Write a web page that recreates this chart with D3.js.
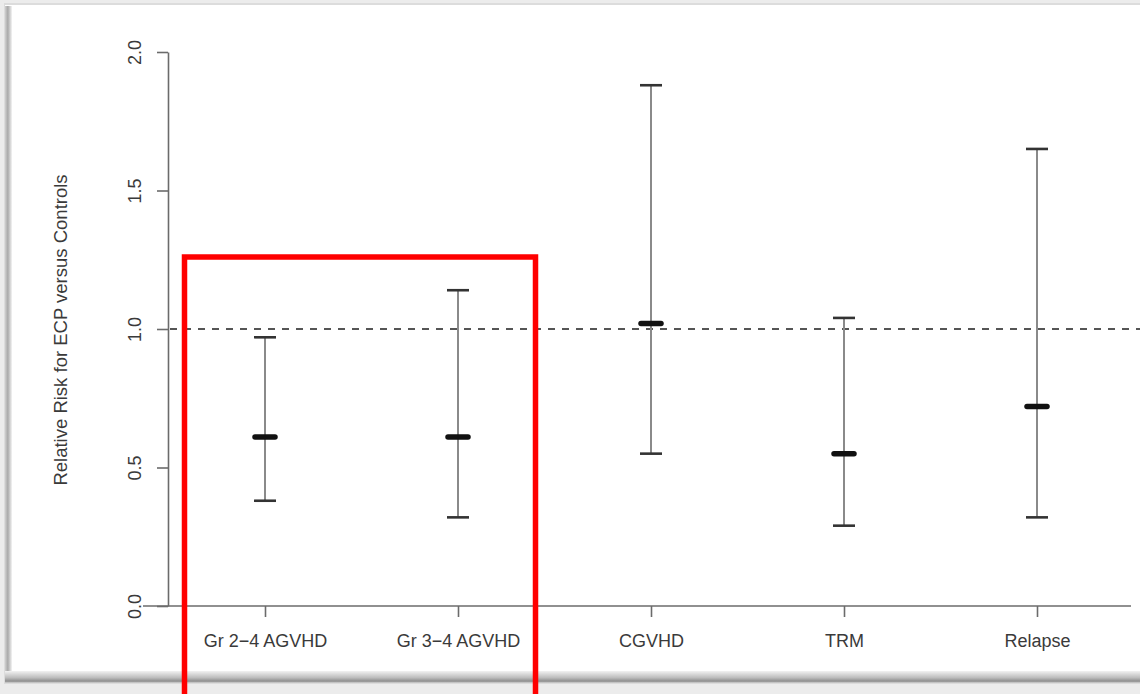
<!DOCTYPE html>
<html>
<head>
<meta charset="utf-8">
<script src="https://cdn.jsdelivr.net/npm/d3@7/dist/d3.min.js"></script>
<style>
  html, body { margin: 0; padding: 0; background: #ebebeb; }
  svg { display: block; }
  text { font-family: "Liberation Sans", Arial, sans-serif; fill: #3a3a3a; }
</style>
</head>
<body>
<svg id="chart" width="1140" height="694"></svg>
<script>
// Outcomes and relative-risk estimates with 95% confidence limits
const outcomes = ["Gr 2\u22124 AGVHD", "Gr 3\u22124 AGVHD", "CGVHD", "TRM", "Relapse"];
const estimate = [0.61, 0.61, 1.02, 0.55, 0.72];
const lower    = [0.38, 0.32, 0.55, 0.29, 0.32];
const upper    = [0.97, 1.14, 1.88, 1.04, 1.65];
const yTicks   = [0, 0.5, 1.0, 1.5, 2.0];
const yTickLabels = ["0.0", "0.5", "1.0", "1.5", "2.0"];
const referenceLevel = 1.0;
const highlighted = ["Gr 2\u22124 AGVHD", "Gr 3\u22124 AGVHD"];

const svg = d3.select("#chart");
const W = 1140, H = 694;

// Slide panel with bevelled edges
const defs = svg.append("defs");
const gB = defs.append("linearGradient").attr("id", "bevelBottom")
  .attr("x1", 0).attr("y1", 0).attr("x2", 0).attr("y2", 1);
gB.append("stop").attr("offset", "0%").attr("stop-color", "#f2f2f2");
gB.append("stop").attr("offset", "55%").attr("stop-color", "#bdbdbd");
gB.append("stop").attr("offset", "85%").attr("stop-color", "#8e8e8e");
gB.append("stop").attr("offset", "100%").attr("stop-color", "#d8d8d8");
const gL = defs.append("linearGradient").attr("id", "bevelLeft")
  .attr("x1", 0).attr("y1", 0).attr("x2", 1).attr("y2", 0);
gL.append("stop").attr("offset", "0%").attr("stop-color", "#d0d0d0");
gL.append("stop").attr("offset", "40%").attr("stop-color", "#a9a9a9");
gL.append("stop").attr("offset", "100%").attr("stop-color", "#f4f4f4");

svg.append("rect").attr("x", 0).attr("y", 0).attr("width", W).attr("height", H).attr("fill", "#ececec");
svg.append("rect").attr("x", 4).attr("y", 3).attr("width", W - 4).attr("height", 681).attr("fill", "#dcdcdc");
svg.append("rect").attr("x", 5).attr("y", 5).attr("width", W - 5).attr("height", 668).attr("fill", "#ffffff");
svg.append("rect").attr("x", 5).attr("y", 6).attr("width", 7).attr("height", 668).attr("fill", "url(#bevelLeft)");
svg.append("rect").attr("x", 5).attr("y", 671).attr("width", W - 5).attr("height", 12).attr("fill", "url(#bevelBottom)");

// Scales
const y = d3.scaleLinear().domain([0, 2]).range([606, 52]);
const x = d3.scalePoint().domain(outcomes).range([265, 1037]);

const axisColor = "#6b6b6b";

// Y axis
const yAxis = svg.append("g").attr("transform", "translate(168,0)")
  .call(d3.axisLeft(y).tickValues(yTicks).tickSize(11).tickSizeOuter(0)
    .tickFormat((d, i) => yTickLabels[i]));
yAxis.select(".domain").attr("stroke", axisColor).attr("stroke-width", 1.6);
yAxis.selectAll(".tick line").attr("stroke", axisColor).attr("stroke-width", 1.6);
yAxis.selectAll(".tick text")
  .attr("x", 0).attr("dy", 0)
  .attr("transform", "translate(-33,0) rotate(-90)")
  .attr("text-anchor", "middle")
  .attr("dominant-baseline", "central")
  .style("font-size", "18px")
  .style("font-family", "'Liberation Sans', Arial, sans-serif")
  .attr("fill", "#3a3a3a");

// X axis baseline and ticks
svg.append("line")
  .attr("x1", 143).attr("x2", 1131)
  .attr("y1", y(0)).attr("y2", y(0))
  .attr("stroke", axisColor).attr("stroke-width", 1.6);
const xAxis = svg.append("g").attr("transform", `translate(0,${y(0)})`)
  .call(d3.axisBottom(x).tickSize(11).tickPadding(17));
xAxis.select(".domain").remove();
xAxis.selectAll(".tick line").attr("stroke", axisColor).attr("stroke-width", 1.6);
xAxis.selectAll(".tick text")
  .style("font-size", "18px")
  .style("font-family", "'Liberation Sans', Arial, sans-serif")
  .attr("fill", "#3a3a3a");

// Axis title
svg.append("text")
  .attr("transform", `translate(60,${(y(0) + y(2)) / 2 + 1}) rotate(-90)`)
  .attr("text-anchor", "middle")
  .attr("dominant-baseline", "central")
  .style("font-size", "18.5px")
  .text("Relative Risk for ECP versus Controls");

// Reference line at relative risk 1
svg.append("line")
  .attr("x1", 170).attr("x2", W)
  .attr("y1", y(referenceLevel)).attr("y2", y(referenceLevel))
  .attr("stroke", "#555").attr("stroke-width", 2)
  .attr("stroke-dasharray", "7,7");

// Confidence intervals
const rows = outcomes.map((o, i) => ({ o, est: estimate[i], lo: lower[i], hi: upper[i] }));
const bars = svg.append("g").selectAll("g").data(rows).join("g");
bars.append("line")
  .attr("x1", d => x(d.o)).attr("x2", d => x(d.o))
  .attr("y1", d => y(d.lo)).attr("y2", d => y(d.hi))
  .attr("stroke", "#8a8a8a").attr("stroke-width", 2);
["lo", "hi"].forEach(k => {
  bars.append("line")
    .attr("x1", d => x(d.o) - 11).attr("x2", d => x(d.o) + 11)
    .attr("y1", d => y(d[k])).attr("y2", d => y(d[k]))
    .attr("stroke", "#333").attr("stroke-width", 2.6);
});
bars.append("line")
  .attr("x1", d => x(d.o) - 10).attr("x2", d => x(d.o) + 10)
  .attr("y1", d => y(d.est)).attr("y2", d => y(d.est))
  .attr("stroke", "#111").attr("stroke-width", 5.5)
  .attr("stroke-linecap", "round");

// Highlight box around the acute GVHD outcomes
const hx0 = x(highlighted[0]) - 80.5, hx1 = x(highlighted[highlighted.length - 1]) + 77.5;
svg.append("path")
  .attr("d", `M${hx0},${H + 10} L${hx0},257 L${hx1},257 L${hx1},${H + 10}`)
  .attr("fill", "none").attr("stroke", "#ff0000").attr("stroke-width", 5.5);
</script>
</body>
</html>
